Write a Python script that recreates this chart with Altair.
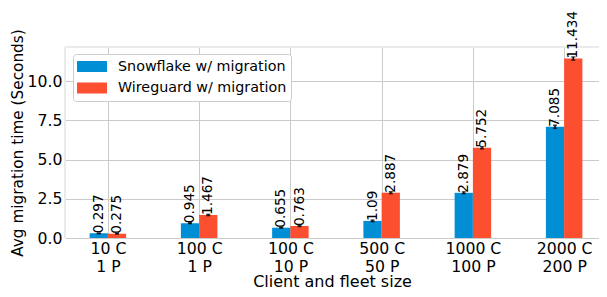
import json
import altair as alt
import pandas as pd

# ---- data ----
client_sizes = ["10 C", "100 C", "100 C", "500 C", "1000 C", "2000 C"]
fleet_sizes = ["1 P", "1 P", "10 P", "50 P", "100 P", "200 P"]
series_names = ["Snowflake w/ migration", "Wireguard w/ migration"]
snowflake_vals = [0.297, 0.945, 0.655, 1.09, 2.879, 7.085]
wireguard_vals = [0.275, 1.467, 0.763, 2.887, 5.752, 11.434]
snowflake_err = [0.02, 0.03, 0.03, 0.05, 0.06, 0.10]
wireguard_err = [0.02, 0.04, 0.03, 0.06, 0.07, 0.10]
series_colors = ["#008fd5", "#fc4f30"]
y_ticks = [0, 2.5, 5, 7.5, 10]

BAR_W = 0.2
FONT = "DejaVu Sans"
X_MIN, X_MAX = -0.47, 5.382
Y_MAX = 12.17

rows = []
for s_i, (name, vals, errs) in enumerate(
    zip(series_names, [snowflake_vals, wireguard_vals], [snowflake_err, wireguard_err])
):
    for i, (v, e) in enumerate(zip(vals, errs)):
        x0 = i - BAR_W + s_i * BAR_W
        rows.append(
            dict(series=name, x0=x0, x1=x0 + BAR_W, xc=x0 + BAR_W / 2, base=0.0,
                 value=v, lo=v - e, hi=v + e, label=str(v))
        )
df = pd.DataFrame(rows)

label_arrays = [[c, "\u00a0\u00a0" + f] for c, f in zip(client_sizes, fleet_sizes)]
label_expr = json.dumps(label_arrays, ensure_ascii=False) + "[datum.value]"

xscale = alt.Scale(domain=[X_MIN, X_MAX], nice=False, zero=False)
yscale = alt.Scale(domain=[0, Y_MAX], nice=False)

xaxis = alt.Axis(
    title="Client and fleet size", values=list(range(len(client_sizes))),
    labelExpr=label_expr, labelLineHeight=18.5, labelPadding=3,
    titleY=43, titleBaseline="middle", titleFontSize=16,
)
yaxis = alt.Axis(
    title="Avg migration time (Seconds)", values=y_ticks, format=".1f",
    labelPadding=3, titleX=-48, titleBaseline="middle", titleFontSize=15.3,
)

base = alt.Chart(df)

bars = base.mark_bar().encode(
    x=alt.X("x0:Q", scale=xscale, axis=xaxis),
    x2="x1:Q",
    y=alt.Y("value:Q", scale=yscale, axis=yaxis),
    y2="base:Q",
    color=alt.Color(
        "series:N",
        scale=alt.Scale(domain=series_names, range=series_colors),
        legend=alt.Legend(
            title=None, orient="none", legendX=8, legendY=7,
            symbolType="M-1,-0.367H1V0.367H-1Z", symbolSize=900,
            symbolStrokeWidth=0, symbolOpacity=1,
            labelFont=FONT, labelFontSize=14.3, labelColor="black", labelLimit=0,
            labelOffset=11, fillColor="white", strokeColor="#cccccc",
            cornerRadius=3, padding=4, rowPadding=4.5, clipHeight=17,
        ),
    ),
)

# light frame (top and left edges of the plot area)
frame_df = pd.DataFrame({"value": [Y_MAX], "x0": [X_MIN]})
frame_top = alt.Chart(frame_df).mark_rule(color="#ebebeb", strokeWidth=2).encode(
    y=alt.Y("value:Q", scale=yscale, axis=yaxis)
)
frame_left = alt.Chart(frame_df).mark_rule(color="#ebebeb", strokeWidth=2).encode(
    x=alt.X("x0:Q", scale=xscale, axis=xaxis)
)

err_rule = base.mark_rule(color="black", strokeWidth=1.5).encode(
    x="xc:Q", y="lo:Q", y2="hi:Q"
)
cap_lo = base.mark_tick(orient="horizontal", color="black", size=4, thickness=1.5).encode(
    x="xc:Q", y="lo:Q"
)
cap_hi = base.mark_tick(orient="horizontal", color="black", size=4, thickness=1.5).encode(
    x="xc:Q", y="hi:Q"
)

texts = base.mark_text(
    angle=270, align="left", baseline="middle", font=FONT, fontSize=13.6, color="black"
).encode(x="xc:Q", y="value:Q", text="label:N")

chart = (
    alt.layer(bars, frame_top, frame_left, err_rule, cap_lo, cap_hi, texts)
    .properties(
        width=534, height=191,
        padding={"left": 57, "top": 39, "right": 0, "bottom": 51},
        autosize=alt.AutoSizeParams(type="none"),
        background="white",
    )
    .configure_view(stroke=None)
    .configure_axis(
        domain=False, ticks=False, tickSize=0, grid=True, gridColor="#cbcbcb", gridWidth=1,
        labelFont=FONT, labelFontSize=15.7, labelColor="black",
        titleFont=FONT, titleFontWeight="normal", titleColor="black",
    )
)

chart.save("out.html", embed_options={"renderer": "svg", "actions": False})
